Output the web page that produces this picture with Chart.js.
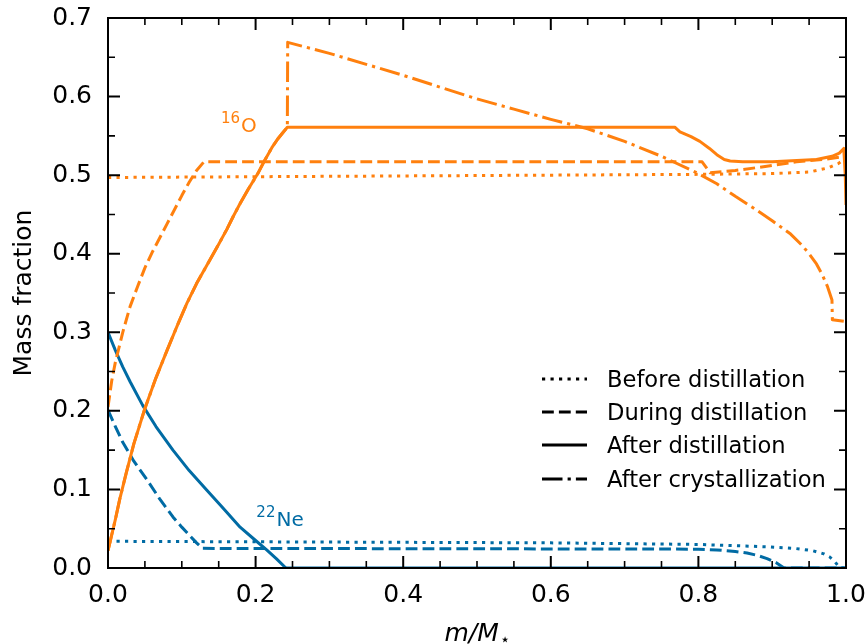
<!DOCTYPE html>
<html>
<head>
<meta charset="utf-8">
<script src="https://cdn.jsdelivr.net/npm/chart.js@4"></script>
<style>
  body { margin: 0; background: #fff; }
  canvas { display: block; }
</style>
</head>
<body>
<canvas id="profile" width="868" height="644"></canvas>
<script>
/* =========================
   PROFILE DATA (m/M* vs mass fraction)
========================= */
// 16O
const oBeforeX = [0, 0.2, 0.4, 0.6, 0.8, 0.9, 0.95, 0.975, 0.99, 1.0];
const oBeforeY = [0.497, 0.498, 0.499, 0.500, 0.501, 0.502, 0.504, 0.509, 0.515, 0.522];

const oDuringX = [0, 0.005, 0.01, 0.02, 0.03, 0.04, 0.05, 0.06, 0.07, 0.08, 0.09, 0.1, 0.11, 0.12, 0.13,
                  0.805, 0.816, 0.85, 0.883, 0.933, 0.97, 0.992, 1.0];
const oDuringY = [0.205, 0.238, 0.262, 0.300, 0.333, 0.358, 0.382, 0.402, 0.420, 0.438, 0.456, 0.474, 0.491, 0.506, 0.517,
                  0.517, 0.503, 0.506, 0.510, 0.517, 0.520, 0.523, 0.527];

const oAfterX = [0, 0.005, 0.01, 0.016, 0.025, 0.035, 0.05, 0.065, 0.08, 0.095, 0.107, 0.12, 0.138, 0.15,
                 0.161, 0.17, 0.179, 0.19, 0.203, 0.213, 0.222, 0.23, 0.236, 0.243,
                 0.768, 0.775, 0.79, 0.802, 0.815, 0.825, 0.835, 0.843, 0.86, 0.9, 0.96, 0.981, 0.991, 0.997, 0.999, 1.0];
const oAfterY = [0.022, 0.042, 0.062, 0.088, 0.122, 0.158, 0.203, 0.242, 0.277, 0.311, 0.337, 0.362, 0.392, 0.412,
                 0.431, 0.448, 0.464, 0.482, 0.502, 0.520, 0.535, 0.546, 0.553, 0.561,
                 0.561, 0.555, 0.549, 0.543, 0.534, 0.526, 0.520, 0.518, 0.517, 0.517, 0.520, 0.524, 0.528, 0.534, 0.50, 0.462];

// crystallized profile follows the distilled one up to the jump at ~0.24
const oCrystX = oAfterX.slice(0, 24).concat([
  0.2435, 0.3, 0.35, 0.4, 0.45, 0.5, 0.55, 0.6, 0.65, 0.7, 0.75, 0.8, 0.825, 0.85,
  0.875, 0.9, 0.925, 0.94, 0.95, 0.96, 0.968, 0.975, 0.981, 0.9815, 0.997]);
const oCrystY = oAfterY.slice(0, 24).concat([
  0.669, 0.655, 0.641, 0.627, 0.612, 0.597, 0.584, 0.571, 0.559, 0.543, 0.524, 0.502, 0.489, 0.473,
  0.458, 0.442, 0.425, 0.411, 0.400, 0.387, 0.373, 0.358, 0.341, 0.316, 0.314]);

// 22Ne
const neBeforeX = [0, 0.3, 0.6, 0.8, 0.893, 0.93, 0.955, 0.97, 0.978, 0.985, 0.99, 0.992, 1.0];
const neBeforeY = [0.034, 0.033, 0.032, 0.030, 0.027, 0.025, 0.022, 0.018, 0.014, 0.008, 0.002, 0, 0];

const neDuringX = [0, 0.01, 0.02, 0.035, 0.053, 0.07, 0.088, 0.1, 0.11, 0.12, 0.128,
                   0.8, 0.825, 0.85, 0.866, 0.88, 0.893, 0.905, 0.913, 0.916, 1.0];
const neDuringY = [0.201, 0.180, 0.160, 0.136, 0.112, 0.088, 0.065, 0.052, 0.042, 0.032, 0.025,
                   0.024, 0.023, 0.021, 0.019, 0.016, 0.012, 0.007, 0.002, 0, 0];

const neAfterX = [0, 0.01, 0.02, 0.03, 0.047, 0.065, 0.088, 0.11, 0.134, 0.157, 0.179, 0.2, 0.215, 0.228, 0.24, 0.242, 1.0];
const neAfterY = [0.300, 0.277, 0.256, 0.237, 0.207, 0.180, 0.150, 0.124, 0.099, 0.075, 0.052, 0.035, 0.023, 0.012, 0.001, 0, 0];

// axes
const xTicks = [0, 0.2, 0.4, 0.6, 0.8, 1.0];
const yTicks = [0, 0.1, 0.2, 0.3, 0.4, 0.5, 0.6, 0.7];
const xMinor = [0.05, 0.1, 0.15, 0.25, 0.3, 0.35, 0.45, 0.5, 0.55, 0.65, 0.7, 0.75, 0.85, 0.9, 0.95];
const yMinor = [0.05, 0.15, 0.25, 0.35, 0.45, 0.55, 0.65];

const legendLabels = ['Before distillation', 'During distillation', 'After distillation', 'After crystallization'];

/* =========================
   STYLES
========================= */
const ORANGE = '#FF800E';
const BLUE = '#006BA4';
const LW = 3;
const DOTTED = [3.2, 5.3];
const DASHED = [11.8, 5.1];
const DASHDOT = [20.5, 5.1, 3.2, 5.1];
const FONT = "'DejaVu Sans', sans-serif";

function pts(xs, ys) {
  return xs.map((x, i) => ({ x: x, y: ys[i] }));
}

function line(label, xs, ys, color, dash) {
  return {
    label: label,
    data: pts(xs, ys),
    borderColor: color,
    borderWidth: LW,
    borderDash: dash,
    borderCapStyle: 'butt',
    borderJoinStyle: 'round',
    pointRadius: 0,
    showLine: true,
    fill: false,
    tension: 0
  };
}

/* =========================
   PLUGINS: frame, inward ticks, legend, labels
========================= */
const decorations = {
  id: 'decorations',
  afterDatasetsDraw(chart) {
    const ctx = chart.ctx;
    const a = chart.chartArea;
    const xs = chart.scales.x;
    const ys = chart.scales.y;

    ctx.save();
    ctx.strokeStyle = '#000';
    ctx.setLineDash([]);

    // frame
    ctx.lineWidth = 2;
    ctx.strokeRect(a.left, a.top, a.right - a.left, a.bottom - a.top);

    // ticks pointing in on all four sides
    function xTick(v, len) {
      const px = xs.getPixelForValue(v);
      ctx.moveTo(px, a.bottom); ctx.lineTo(px, a.bottom - len);
      ctx.moveTo(px, a.top); ctx.lineTo(px, a.top + len);
    }
    function yTick(v, len) {
      const py = ys.getPixelForValue(v);
      ctx.moveTo(a.left, py); ctx.lineTo(a.left + len, py);
      ctx.moveTo(a.right, py); ctx.lineTo(a.right - len, py);
    }
    ctx.beginPath();
    ctx.lineWidth = 2;
    xTicks.forEach(v => xTick(v, 12));
    yTicks.forEach(v => yTick(v, 12));
    ctx.stroke();
    ctx.beginPath();
    ctx.lineWidth = 1.6;
    xMinor.forEach(v => xTick(v, 7));
    yMinor.forEach(v => yTick(v, 7));
    ctx.stroke();

    // legend
    const dashes = [DOTTED, DASHED, [], DASHDOT];
    const rows = [379, 412, 445, 479];
    ctx.font = '22.6px ' + FONT;
    ctx.textBaseline = 'middle';
    ctx.fillStyle = '#000';
    legendLabels.forEach((txt, i) => {
      ctx.beginPath();
      ctx.lineWidth = LW;
      ctx.lineCap = 'butt';
      ctx.setLineDash(dashes[i]);
      ctx.moveTo(542, rows[i]);
      ctx.lineTo(587, rows[i]);
      ctx.stroke();
      ctx.setLineDash([]);
      ctx.fillText(txt, 607, rows[i] + 2);
    });

    // isotope labels
    ctx.textBaseline = 'alphabetic';
    function isotope(sup, sym, x, y, color) {
      const px = xs.getPixelForValue(x);
      const py = ys.getPixelForValue(y);
      ctx.fillStyle = color;
      ctx.font = '15px ' + FONT;
      ctx.fillText(sup, px, py - 9);
      const w = ctx.measureText(sup).width;
      ctx.font = '20px ' + FONT;
      ctx.fillText(sym, px + w + 1, py);
    }
    isotope('16', 'O', 0.153, 0.555, ORANGE);
    isotope('22', 'Ne', 0.201, 0.053, BLUE);

    // x axis title: m/M with a subscript star
    ctx.fillStyle = '#000';
    ctx.font = 'italic 25px ' + FONT;
    const main = 'm/M';
    const mw = ctx.measureText(main).width;
    ctx.font = '17px ' + FONT;
    const sw = ctx.measureText('\u22c6').width;
    const cx = (a.left + a.right) / 2;
    const x0 = cx - (mw + sw) / 2;
    ctx.font = 'italic 25px ' + FONT;
    ctx.fillText(main, x0, 641);
    ctx.font = '17px ' + FONT;
    ctx.fillText('\u22c6', x0 + mw + 1, 645);

    ctx.restore();
  }
};

/* =========================
   CHART
========================= */
const ctx = document.getElementById('profile').getContext('2d');

new Chart(ctx, {
  type: 'scatter',
  data: {
    datasets: [
      line('16O after distillation', oAfterX, oAfterY, ORANGE, []),
      line('16O after crystallization', oCrystX, oCrystY, ORANGE, DASHDOT),
      line('16O during distillation', oDuringX, oDuringY, ORANGE, DASHED),
      line('16O before distillation', oBeforeX, oBeforeY, ORANGE, DOTTED),
      line('22Ne after distillation', neAfterX, neAfterY, BLUE, []),
      line('22Ne during distillation', neDuringX, neDuringY, BLUE, DASHED),
      line('22Ne before distillation', neBeforeX, neBeforeY, BLUE, DOTTED)
    ]
  },
  options: {
    responsive: false,
    animation: false,
    devicePixelRatio: 1,
    layout: { autoPadding: false, padding: { top: 18, right: 22, left: 0, bottom: 0 } },
    plugins: {
      legend: { display: false },
      tooltip: { enabled: false }
    },
    scales: {
      x: {
        type: 'linear',
        min: 0,
        max: 1,
        grid: { display: false, drawTicks: false },
        border: { display: false },
        afterBuildTicks: s => { s.ticks = xTicks.map(v => ({ value: v })); },
        afterFit: s => {
          s.height = 76;
          s.paddingLeft = 0;
          s.paddingRight = 0;
        },
        ticks: {
          padding: 12,
          color: '#000',
          font: { family: FONT, size: 25 },
          callback: v => v.toFixed(1)
        }
      },
      y: {
        type: 'linear',
        min: 0,
        max: 0.7,
        grid: { display: false, drawTicks: false },
        border: { display: false },
        afterBuildTicks: s => { s.ticks = yTicks.map(v => ({ value: v })); },
        afterFit: s => {
          s.width = 108;
          s.paddingTop = 0;
          s.paddingBottom = 0;
        },
        ticks: {
          padding: 16,
          color: '#000',
          font: { family: FONT, size: 25 },
          callback: v => v.toFixed(1)
        },
        title: {
          display: true,
          text: 'Mass fraction',
          color: '#000',
          font: { family: FONT, size: 25 },
          padding: { top: 9, bottom: 0 }
        }
      }
    }
  },
  plugins: [decorations]
});
</script>
</body>
</html>
